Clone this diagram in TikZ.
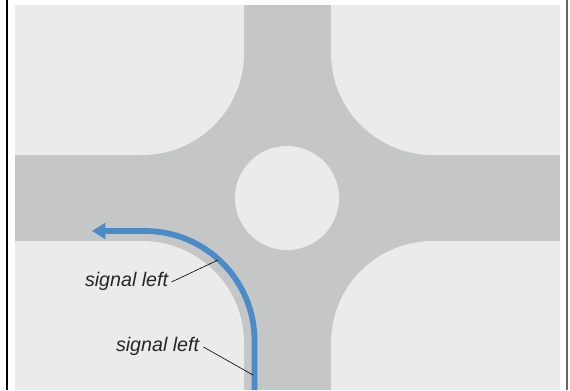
\documentclass[tikz,border=0pt]{standalone}
\usepackage{fontspec}
\setmainfont{Liberation Sans}
\usepackage{tikz}
\usetikzlibrary{arrows.meta}
\definecolor{blockgrey}{HTML}{EBEBEB}
\definecolor{roadgrey}{HTML}{C5C7C6}
\definecolor{signalblue}{HTML}{4A8BC8}
\tikzset{
  block/.style={fill=blockgrey, draw=none},
  label/.style={font=\fontsize{11.2}{13}\selectfont\itshape, text=black!85, inner sep=0pt},
  leader/.style={draw=black, line width=0.35pt},
  signal/.style={draw=signalblue, line width=3.3pt, -{Triangle[length=7.6pt,width=9pt]}}
}
\begin{document}
\begin{tikzpicture}[x=0.02cm,y=-0.02cm]

  % page, one unit is one pixel of the reference
  \useasboundingbox (0,0) rectangle (570,390);
  \fill[white] (0,0) rectangle (570,390);

  % --- Road ---
  \fill[roadgrey] (15,5) rectangle (560,390);

  % --- Four blocks ---
  \fill[block] (15,5) -- (244,5) -- (244,53) arc[start angle=0, end angle=90, radius=102] -- (15,155) -- cycle;
  \fill[block] (560,5) -- (331,5) -- (331,53) arc[start angle=180, end angle=90, radius=102] -- (560,155) -- cycle;
  \fill[block] (15,390) -- (244,390) -- (244,343) arc[start angle=0, end angle=-90, radius=102] -- (15,241) -- cycle;
  \fill[block] (560,390) -- (331,390) -- (331,343) arc[start angle=180, end angle=270, radius=102] -- (560,241) -- cycle;

  % --- Island ---
  \fill[block] (287,198) circle (52);

  % --- Side rules ---
  \draw[black, line width=0.8pt] (7,0) -- (7,390);
  \draw[black!60, line width=0.8pt] (567,0) -- (567,390);

  % --- Signal path ---
  \coordinate (start) at (254.5,390);
  \coordinate (tip) at (92,231);
  \draw[signal] (start) -- (254.5,340.5) arc[start angle=0, end angle=-90, radius=109.5] -- (tip);

  % --- Labels ---
  \node[label, anchor=east] (upperlabel) at (168.5,281) {signal left};
  \node[label, anchor=east] (lowerlabel) at (199.5,346) {signal left};
  \coordinate (uppertouch) at (218,260);
  \coordinate (lowertouch) at (253,375);
  \draw[leader] (upperlabel.east) ++(3,1) -- (uppertouch);
  \draw[leader] (lowerlabel.east) ++(4,1) -- (lowertouch);

\end{tikzpicture}
\end{document}
